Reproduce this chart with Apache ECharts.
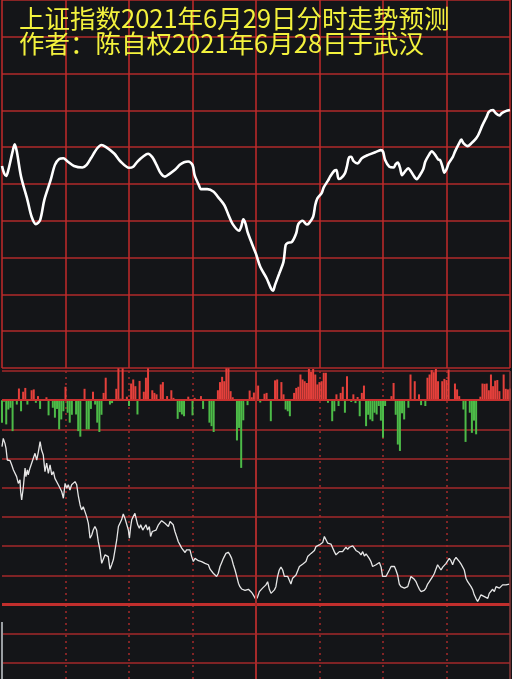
<!DOCTYPE html>
<html><head><meta charset="utf-8">
<script src="https://cdn.jsdelivr.net/npm/echarts@6/dist/echarts.min.js"></script>
<style>html,body{margin:0;padding:0;background:#141518;}#c{width:512px;height:679px;}</style>
</head><body><div id="c"></div>
<script>
const titleLines = ['上证指数2021年6月29日分时走势预测', '作者：陈自权2021年6月28日于武汉'];

// Top panel: forecast intraday index curve (minute index 0..240, grid units 0..100)
const topMinutes = [0,1,2,3,5,6,7,9,12,14,16,18,20,23,25,27,29,31,34,38,40,42,45,47,49,53,56,60,62,64,67,69,71,73,75,77,79,82,84,86,88,90,91,93,94,97,100,102,105,107,109,112,113,114,115,116,118,120,122,125,127,128,129,131,133,134,135,137,139,140,142,144,145,147,148,149,151,152,154,155,157,158,159,160,162,163,164,165,166,168,170,173,177,179,180,181,183,185,186,187,188,189,190,192,193,195,196,197,199,200,202,203,205,206,207,208,209,210,211,213,214,216,217,218,220,222,224,225,227,229,230,232,233,235,236,238,240];
const topValues = [54.9,52.9,52.2,53.8,58.8,60.8,58.8,52.0,45.7,41.1,39.1,40.2,45.7,51.1,55.2,56.8,57.0,56.1,54.9,54.5,55.2,57.0,59.7,60.6,60.1,58.3,56.1,54.4,54.7,56.1,57.6,58.2,57.3,55.2,52.9,52.0,52.7,54.0,55.2,55.9,56.1,55.2,52.4,49.7,48.6,48.6,47.9,46.5,44.3,41.6,39.1,37.3,38.4,40.4,39.3,37.0,33.9,31.0,27.5,24.4,21.7,21.0,22.6,25.7,28.9,33.4,34.0,34.3,36.6,39.1,40.0,39.0,39.3,41.1,44.3,46.1,47.5,49.1,50.9,52.0,53.6,53.8,51.4,51.5,52.9,54.9,57.3,57.4,56.3,55.6,57.0,57.9,58.8,59.2,58.8,56.5,54.7,54.5,55.4,55.8,54.5,52.4,53.1,54.3,53.6,51.8,51.3,52.0,54.0,56.1,58.2,58.9,57.6,56.7,56.5,54.9,53.1,54.0,55.6,57.4,58.8,61.1,62.1,61.1,60.3,61.2,62.4,63.3,66.0,68.3,69.6,70.1,69.4,68.6,69.2,69.8,70.1];

// Middle panel: per-minute bars (positive red, negative green), bottom-panel units
const flowValues = [
-7.7,-0.5,-8.3,-3.2,-2.6,-10.6,0,-1.5,4.0,-3.8,
2.9,4.2,-1.5,0,3.4,3.7,-0.9,1.4,-3.0,0,
0,1.0,-5.2,0,-2.6,-6.0,-3.0,-10.0,-6.6,-3.8,
4.6,-4.3,-7.7,-5.0,0,-4.9,-10.6,-12.5,0,3.9,
-10.0,-10.0,-3.0,2.9,-1.5,-7.7,-10.9,-5.0,2.5,7.7,
0,-1.5,-1.0,0,3.9,10.9,0.5,10.9,0,1.2,
-2.0,5.7,7.1,4.8,-4.9,6.6,0,2.9,7.7,10.9,
0,3.4,2.5,2.0,0,5.4,6.2,0,1.4,0,
3.4,0.8,0,-6.4,-4.1,-4.9,-5.5,0,1.2,0,
-5.2,0.8,0,0,1.4,-3.0,0,0,-7.7,-8.9,
-10.9,0,3.4,6.2,8.0,6.5,10.9,10.9,3.1,1.0,
0,-13.8,-9.5,-23.2,-6.9,0,-1.7,3.3,1.0,2.6,
2.2,5.0,-0.8,0,2.2,2.5,0,-7.2,0,6.8,
7.1,0,6.2,2.0,-3.2,-3.8,-5.5,0,2.5,4.2,
4.6,8.8,7.1,6.5,5.9,10.7,9.7,10.7,8.8,5.4,
6.2,6.5,9.4,9.4,-0.9,0,-7.2,-3.8,2.0,-2.0,
2.5,4.6,-4.3,8.2,0,-0.6,2.0,-1.0,1.1,-5.5,
2.5,5.0,-8.9,-5.0,-6.6,-7.2,-4.3,-4.9,-2.0,-7.0,
-12.9,-2.0,0,0,1.4,5.9,-5.0,-15.2,-17.4,-4.5,
-6.6,0,-2.6,8.8,0,6.5,0,2.0,-1.7,0,
-2.0,7.7,8.8,10.3,9.6,10.7,6.5,0,6.5,7.3,
6.9,10.5,0,0,5.7,3.7,1.4,0,-3.2,-14.3,
0,-4.3,-11.2,-7.0,-11.7,0,1.2,5.7,5.6,5.7,
3.4,8.8,4.8,6.7,6.9,3.1,0,8.8,3.9,3.7,
4.0];

// Bottom panel: jagged indicator line
const lowMinutes = [0,0.6,1.4,1.9,2.5,3.8,4.6,5.4,6.1,6.9,7.7,8.5,8.8,9.3,10.1,10.9,11.3,12.0,12.4,13.2,14.0,14.8,15.6,16.4,17.2,18.0,18.7,19.5,20.3,21.1,21.9,22.7,23.5,24.3,25.0,25.8,26.6,27.4,28.2,29.0,29.8,30.6,31.3,32.1,32.9,33.7,34.5,35.3,36.1,36.9,37.6,38.4,39.2,40.0,40.8,41.6,42.4,43.1,43.9,44.7,45.5,46.3,47.1,47.9,48.7,49.4,50.2,51.0,51.8,52.6,53.4,54.2,55.0,55.7,56.5,57.3,58.1,58.9,59.7,60.2,60.8,61.3,62.0,62.8,63.6,64.1,64.9,65.5,66.5,67.2,68.0,68.8,69.6,70.2,71.0,71.8,72.8,73.9,74.6,75.4,76.2,77.0,77.8,78.6,79.4,80.2,80.9,81.7,82.5,83.3,84.1,84.9,85.7,86.5,87.2,88.0,88.8,89.6,90.4,91.2,92.0,92.8,93.5,94.3,95.1,95.9,96.7,97.5,98.3,99.8,100.6,101.4,102.2,103.0,103.8,104.6,105.8,106.9,107.7,108.5,109.3,110.1,110.9,111.7,112.4,113.2,114.0,114.8,115.6,116.4,117.2,118.0,118.7,119.5,
120.0,120.8,121.6,122.4,123.1,123.9,124.7,125.5,126.3,127.1,127.9,128.7,129.4,130.2,131.0,131.8,132.6,133.4,134.2,135.0,135.7,136.5,137.3,138.1,138.9,139.7,140.5,141.3,142.0,142.8,143.6,144.4,145.2,146.0,146.8,147.6,148.3,149.1,149.9,150.7,151.5,152.3,153.1,153.9,154.6,155.4,156.2,157.0,157.8,158.6,159.4,160.2,160.9,161.7,162.5,163.3,164.1,164.9,165.7,166.5,167.2,168.0,168.8,169.6,170.4,171.2,172.0,172.8,173.5,174.3,175.1,175.9,176.7,177.5,178.3,179.1,179.8,180.6,181.4,182.2,183.0,183.8,184.6,185.4,186.1,186.9,187.4,187.7,188.5,189.3,190.1,190.9,191.7,192.4,193.2,194.0,194.8,195.6,196.4,197.2,198.0,198.7,199.5,200.3,201.1,201.9,202.7,203.5,204.3,205.0,205.8,206.6,207.4,208.2,209.0,209.8,210.6,211.3,212.1,212.9,213.7,214.5,215.3,216.1,216.9,217.6,218.4,219.2,220.0,220.8,221.6,222.4,223.1,223.9,224.7,225.5,226.3,227.1,227.9,228.7,229.5,230.2,231.0,231.8,232.6,233.4,234.2,235.0,235.7,236.5,237.3,238.1,238.9,239.7];
const lowValues = [-15.9,-13.1,-14.8,-16.5,-20.5,-20.7,-22.2,-23.9,-23.3,-26.2,-28.5,-27.3,-31.3,-34.2,-29.6,-23.3,-26.2,-23.9,-25.6,-23.3,-21.6,-19.9,-18.2,-20.5,-17.6,-14.2,-17.1,-18.8,-24.5,-21.6,-25.1,-22.2,-25.6,-24.5,-26.8,-27.3,-29.0,-28.5,-31.3,-33.6,-28.5,-30.2,-29.0,-30.8,-29.0,-28.5,-27.9,-29.0,-33.0,-35.9,-37.6,-36.5,-38.2,-39.9,-42.2,-47.3,-46.2,-44.5,-43.3,-44.5,-48.5,-51.3,-55.9,-55.3,-53.0,-52.5,-53.6,-57.9,-56.4,-54.7,-54.2,-47.9,-43.3,-42.7,-41.0,-39.0,-40.5,-39.9,-44.5,-47.3,-43.3,-41.0,-39.9,-38.8,-39.3,-42.7,-43.9,-42.7,-44.5,-45.0,-42.7,-44.5,-43.3,-46.7,-45.0,-45.6,-44.5,-42.7,-42.2,-41.3,-41.6,-42.2,-42.5,-43.3,-41.6,-41.6,-42.7,-45.0,-46.7,-48.5,-49.6,-50.7,-51.3,-52.2,-51.3,-51.1,-51.3,-53.6,-55.3,-54.2,-54.7,-55.0,-54.7,-55.3,-55.0,-55.9,-56.4,-56.4,-57.9,-59.3,-59.9,-60.4,-59.3,-57.0,-55.6,-54.2,-52.5,-52.1,-53.0,-54.2,-56.4,-58.2,-60.4,-62.7,-63.9,-64.7,-65.0,-65.2,-65.0,-64.8,-65.2,-65.9,-66.7,-67.3,
-68.4,-67.3,-65.6,-66.2,-64.4,-63.9,-63.3,-62.2,-64.8,-66.2,-66.4,-65.0,-63.9,-60.4,-58.2,-57.2,-58.2,-60.4,-61.0,-60.4,-61.6,-63.0,-61.0,-60.4,-59.9,-59.3,-57.0,-56.4,-56.2,-56.4,-55.3,-53.6,-53.0,-52.5,-51.9,-51.5,-50.2,-50.4,-49.6,-49.6,-48.8,-46.7,-46.5,-49.0,-49.6,-49.3,-49.9,-51.9,-53.0,-52.5,-51.9,-51.5,-51.9,-51.1,-50.4,-51.1,-50.4,-50.2,-49.9,-50.7,-51.5,-51.1,-52.2,-53.0,-51.9,-53.4,-52.7,-53.0,-54.2,-55.3,-57.0,-57.0,-56.4,-55.9,-55.6,-57.2,-60.4,-60.2,-60.4,-59.3,-58.2,-57.0,-56.4,-57.0,-58.2,-59.9,-60.4,-63.0,-63.9,-64.1,-64.4,-64.1,-63.9,-62.2,-60.4,-60.4,-61.4,-62.2,-63.6,-64.8,-65.6,-65.6,-65.2,-64.4,-63.0,-62.2,-61.6,-60.4,-59.3,-57.9,-56.4,-57.0,-58.2,-57.2,-57.0,-55.9,-55.3,-54.2,-55.0,-56.4,-54.7,-53.9,-54.2,-55.3,-56.2,-56.4,-58.2,-61.0,-62.2,-62.5,-63.9,-65.0,-66.7,-67.9,-69.0,-67.9,-66.7,-66.4,-67.3,-67.5,-67.9,-66.2,-65.6,-64.8,-65.6,-63.9,-63.3,-64.4,-63.9,-63.3,-63.3,-63.3,-63.0,-63.0];

// small grey stub at the lower-left edge
const stubMinutes = [0, 0];
const stubValues = [-76, -100];

const GRIDV = '#c22a2a', GRIDH = '#b02a2a', GRID2 = '#a3282a', DOT = '#a52a2a', UP = '#e5403b', DOWN = '#4dbb48';
const FONT = '"Noto Sans CJK SC", "Noto Sans", sans-serif';

const pairs = (xs, ys) => xs.map((x, i) => [x, ys[i]]);
const noAxis = {axisLine:{show:false}, axisTick:{show:false}, axisLabel:{show:false}};

const chart = echarts.init(document.getElementById('c'));
chart.setOption({
  backgroundColor: '#141518',
  animation: false,
  title: titleLines.map((t, i) => ({
    text: t, left: 14, top: 1 + i * 25,
    textStyle: {color: '#f3f23d', fontSize: 25.5, fontWeight: 'normal', fontFamily: FONT}
  })),
  grid: [
    {left: 2, top: 0, width: 508, height: 368, outerBoundsMode: 'none', containLabel: false},
    {left: 2, top: 371, width: 508, height: 321, outerBoundsMode: 'none', containLabel: false}
  ],
  xAxis: [
    Object.assign({gridIndex: 0, type: 'value', min: 0, max: 240, interval: 30,
      splitLine: {show: true, lineStyle: {color: GRIDV, width: 1.5, opacity: 1}}}, noAxis),
    Object.assign({gridIndex: 1, type: 'value', min: 0, max: 240, interval: 30,
      splitLine: {show: true, showMinLine: false, showMaxLine: false, lineStyle: {color: DOT, width: 1.5, type: [2, 4]}}}, noAxis)
  ],
  yAxis: [
    Object.assign({gridIndex: 0, type: 'value', min: 0, max: 100, interval: 10,
      splitLine: {show: true, lineStyle: {color: GRIDH, width: 1.5}}}, noAxis),
    Object.assign({gridIndex: 1, type: 'value', min: -100, max: 10, interval: 10,
      splitLine: {show: true, lineStyle: {color: GRID2, width: 1.5}}}, noAxis)
  ],
  series: [
    {
      type: 'line', xAxisIndex: 0, yAxisIndex: 0, data: pairs(topMinutes, topValues),
      smooth: 0.3, symbol: 'none', lineStyle: {color: '#ffffff', width: 2.6}
    },
    {
      type: 'bar', xAxisIndex: 1, yAxisIndex: 1, data: flowValues.map((v, i) => [i, v]),
      barWidth: 2, clip: false,
      itemStyle: {color: p => (p.value[1] >= 0 ? UP : DOWN)},
      markLine: {
        silent: true, symbol: 'none', label: {show: false},
        data: [
          {yAxis: 0, lineStyle: {color: '#c8302f', width: 2.2, type: 'solid'}},
          {yAxis: -70, lineStyle: {color: '#c22f2d', width: 3, type: 'solid'}},
          {xAxis: 120, lineStyle: {color: '#a52a2a', width: 2, type: 'solid'}},
          {xAxis: 240, lineStyle: {color: '#8a3a3a', width: 1.5, type: 'solid'}}
        ]
      }
    },
    {
      type: 'line', xAxisIndex: 1, yAxisIndex: 1, data: pairs(lowMinutes, lowValues),
      symbol: 'none', lineStyle: {color: '#e6e6e6', width: 1.3}
    },
    {
      type: 'line', xAxisIndex: 1, yAxisIndex: 1, data: pairs(stubMinutes, stubValues),
      symbol: 'none', lineStyle: {color: '#9a9ea2', width: 2}
    }
  ]
});
</script>
</body></html>
